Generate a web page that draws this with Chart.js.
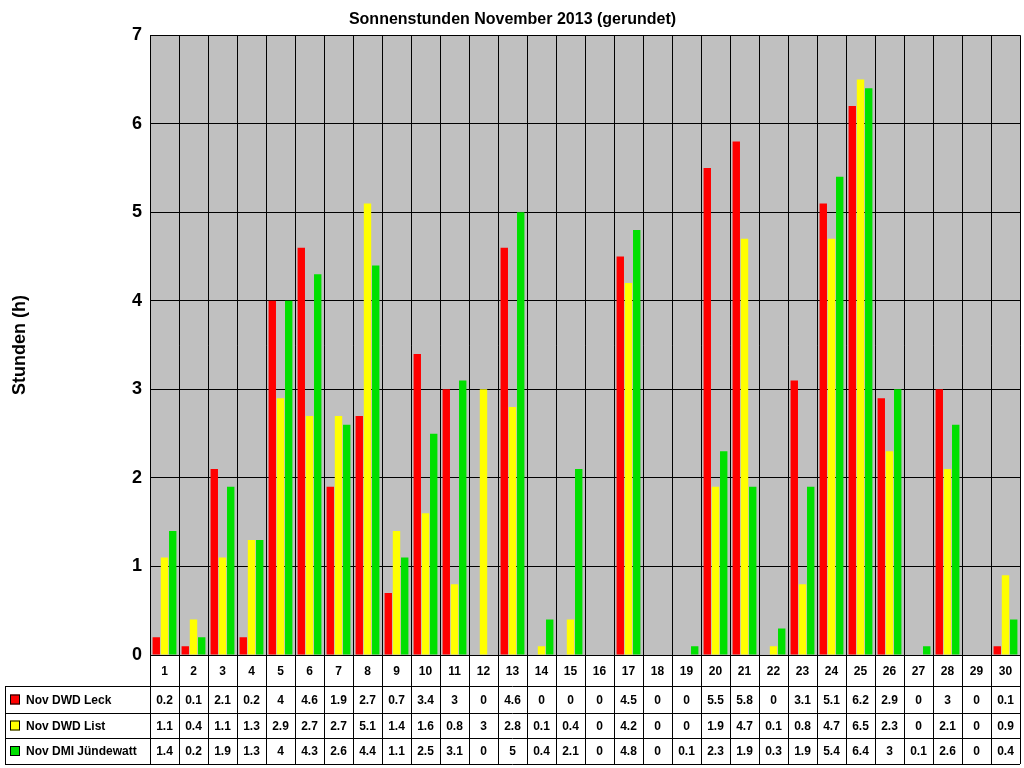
<!DOCTYPE html><html><head><meta charset="utf-8">
<script src="https://cdn.jsdelivr.net/npm/chart.js@4"></script>
<style>body{margin:0;background:#fff}canvas{display:block}</style></head><body>
<div style="width:1024px;height:768px"><canvas id="c"></canvas></div>
<script>
const days = Array.from({length:30},(_,i)=>String(i+1));
const leck = [0.2,0.1,2.1,0.2,4,4.6,1.9,2.7,0.7,3.4,3,0,4.6,0,0,0,4.5,0,0,5.5,5.8,0,3.1,5.1,6.2,2.9,0,3,0,0.1];
const list = [1.1,0.4,1.1,1.3,2.9,2.7,2.7,5.1,1.4,1.6,0.8,3,2.8,0.1,0.4,0,4.2,0,0,1.9,4.7,0.1,0.8,4.7,6.5,2.3,0,2.1,0,0.9];
const dmi = [1.4,0.2,1.9,1.3,4,4.3,2.6,4.4,1.1,2.5,3.1,0,5,0.4,2.1,0,4.8,0,0.1,2.3,1.9,0.3,1.9,5.4,6.4,3,0.1,2.6,0,0.4];
const names = ['Nov DWD Leck','Nov DWD List','Nov DMI Jündewatt'];
const colors = ['#FF0000','#FFFF00','#00E000'];
const series=[leck,list,dmi];
const bg={id:'bg',beforeDraw(c){const a=c.chartArea,x=c.ctx;x.save();x.fillStyle='#C0C0C0';x.fillRect(a.left,a.top,a.right-a.left,a.bottom-a.top);x.restore();}};
const table={id:'table',afterDraw(c){const x=c.ctx,a=c.chartArea,sx=c.scales.x;const w=(a.right-a.left)/30;
 const rows=[655,686,713,738,764];x.save();x.strokeStyle='#000';x.lineWidth=1;x.beginPath();
 x.moveTo(a.left,rows[0]+.5);x.lineTo(a.right,rows[0]+.5);
 for(let r=1;r<rows.length;r++){x.moveTo(5,rows[r]+.5);x.lineTo(a.right,rows[r]+.5);}
 x.moveTo(5.5,rows[1]);x.lineTo(5.5,rows[4]);
 for(let i=0;i<=30;i++){const px=Math.round(a.left+i*w)+.5;x.moveTo(px,rows[0]);x.lineTo(px,rows[4]);}
 x.stroke();
 x.font='bold 12px Arial';x.textAlign='center';x.textBaseline='middle';x.fillStyle='#000';
 days.forEach((d,i)=>{const cx=sx.getPixelForValue(i);x.fillText(d,cx,(rows[0]+rows[1])/2+1);
  series.forEach((s,r)=>x.fillText(String(s[i]),cx,(rows[r+1]+rows[r+2])/2+1));});
 x.textAlign='left';
 names.forEach((n,r)=>{const cy=(rows[r+1]+rows[r+2])/2;x.fillStyle=colors[r];x.fillRect(10,cy-5,10,10);x.strokeRect(10.5,cy-4.5,9,9);x.fillStyle='#000';x.fillText(n,26,cy+1);});
 x.restore();}};
new Chart(document.getElementById('c'),{type:'bar',
 data:{labels:days,datasets:series.map((s,i)=>({label:names[i],data:s,backgroundColor:colors[i],barPercentage:0.9,categoryPercentage:0.85}))},
 options:{responsive:true,maintainAspectRatio:false,animation:false,
  layout:{padding:{left:5,right:4,bottom:113,top:0}},
  plugins:{legend:{display:false},tooltip:{enabled:false},
   title:{display:true,text:'Sonnenstunden November 2013 (gerundet)',color:'#000',font:{family:'Arial',size:16,weight:'bold'},padding:{top:10,bottom:6}}},
  scales:{x:{ticks:{display:false},grid:{color:'#000',offset:true,drawTicks:false},border:{color:'#000'}},
   y:{min:0,max:7,ticks:{stepSize:1,color:'#000',font:{family:'Arial',size:18,weight:'bold'},padding:8},
    grid:{color:'#000',drawTicks:false},border:{color:'#000'},
    title:{display:true,text:'Stunden (h)',color:'#000',font:{family:'Arial',size:18,weight:'bold'},padding:{bottom:70}},
    afterFit(s){s.width=145;}}}},
 plugins:[bg,table]});
</script></body></html>
